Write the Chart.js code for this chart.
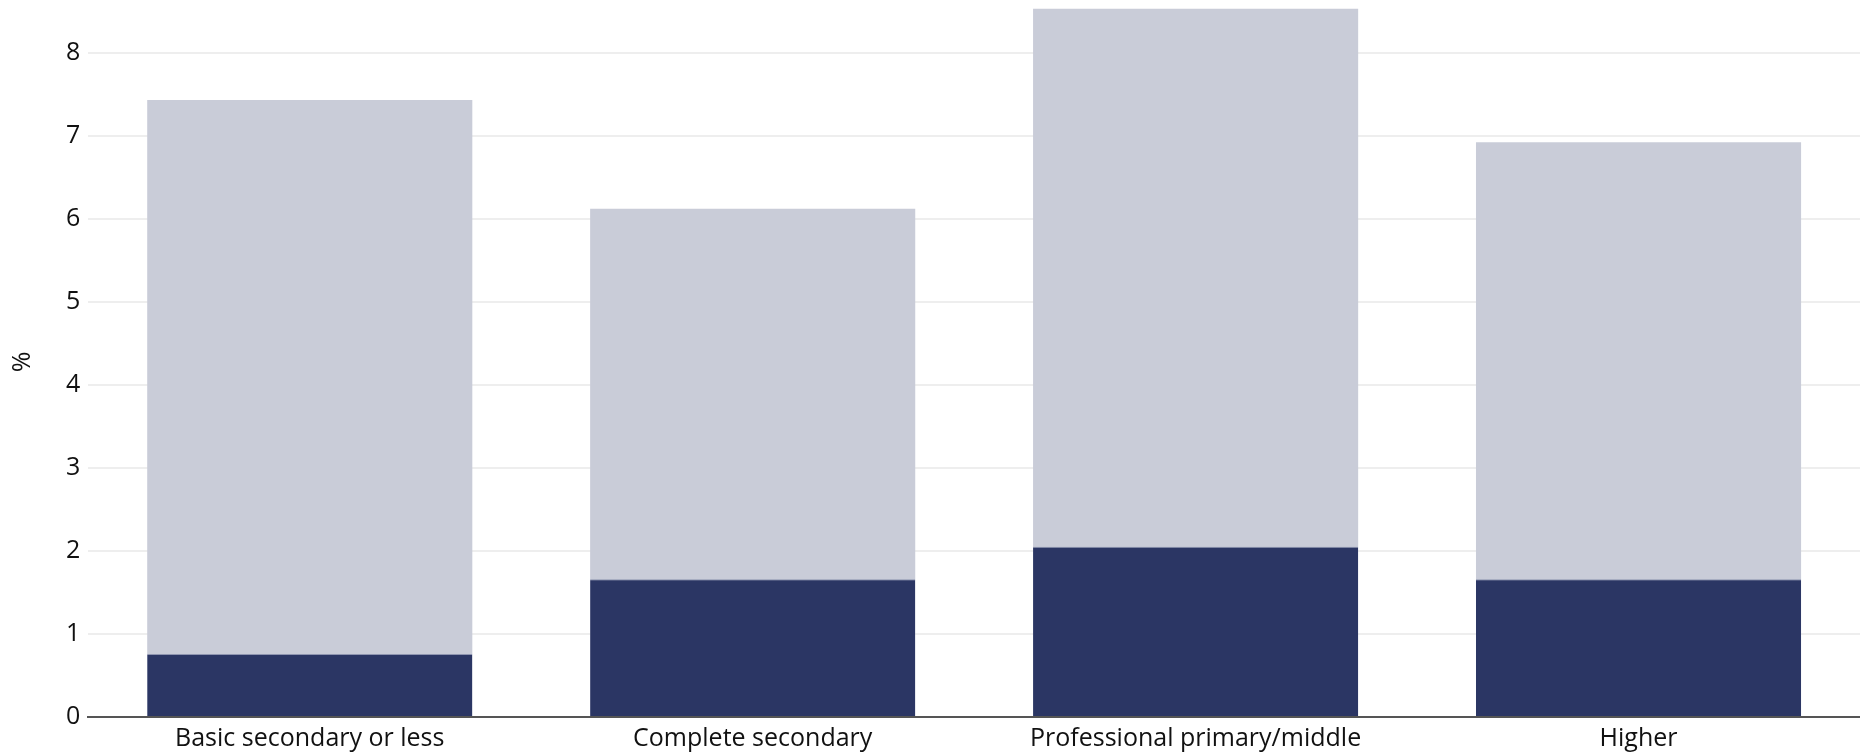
<!DOCTYPE html>
<html>
<head>
<meta charset="utf-8">
<script src="https://cdn.jsdelivr.net/npm/chart.js@4"></script>
<style>
  html, body { margin: 0; padding: 0; background: #fff; overflow: hidden; }
  #wrap { width: 1860px; height: 781px; position: relative; top: -16px; }
</style>
</head>
<body>
<div id="wrap"><canvas id="chart"></canvas></div>
<script>
const categories = ['Basic secondary or less', 'Complete secondary', 'Professional primary/middle', 'Higher'];
const darkValues = [0.76, 1.66, 2.05, 1.66];
const totalValues = [7.43, 6.12, 8.53, 6.92];
const yTicks = [0, 1, 2, 3, 4, 5, 6, 7, 8];

const ctx = document.getElementById('chart').getContext('2d');

new Chart(ctx, {
  type: 'bar',
  data: {
    labels: categories,
    datasets: [
      {
        label: 'dark',
        data: darkValues,
        backgroundColor: '#2b3664',
        borderColor: '#8f95b0',
        borderWidth: { top: 1, left: 0, right: 0, bottom: 0 },
        borderSkipped: false,
        categoryPercentage: 1,
        barPercentage: 0.734
      },
      {
        label: 'total',
        data: totalValues,
        backgroundColor: '#c9ccd8',
        borderWidth: 0,
        categoryPercentage: 1,
        barPercentage: 0.734
      }
    ]
  },
  options: {
    responsive: true,
    maintainAspectRatio: false,
    animation: false,
    layout: { padding: { top: 0, right: 0, bottom: 4, left: 0 } },
    plugins: {
      legend: { display: false },
      tooltip: { enabled: false }
    },
    scales: {
      x: {
        stacked: true,
        grid: { display: false, drawTicks: false },
        border: { display: true, color: '#555555', width: 2 },
        ticks: {
          color: '#111111',
          padding: 7,
          font: { family: 'Open Sans', size: 25 }
        }
      },
      y: {
        stacked: false,
        min: 0,
        max: 8.55,
        afterBuildTicks: (axis) => { axis.ticks = yTicks.map(v => ({ value: v })); },
        grid: {
          color: '#eeeeee',
          lineWidth: 2,
          drawTicks: false
        },
        border: { display: false },
        ticks: {
          color: '#111111',
          padding: 8,
          font: { family: 'Open Sans', size: 25 }
        },
        title: {
          display: true,
          text: '%',
          color: '#111111',
          padding: { top: 8, bottom: 20 },
          font: { family: 'Open Sans', size: 25 }
        }
      }
    }
  }
});
</script>
</body>
</html>
